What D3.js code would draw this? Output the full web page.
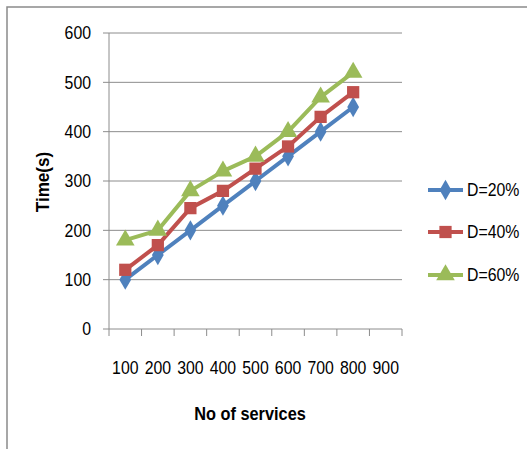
<!DOCTYPE html>
<html>
<head>
<meta charset="utf-8">
<script src="https://cdn.jsdelivr.net/npm/d3@7"></script>
<style>
  html, body { margin: 0; padding: 0; background: #fff; }
  svg { display: block; }
  text { font-family: "Liberation Sans", Arial, sans-serif; fill: #000; }
</style>
</head>
<body>
<script>
const categories = ["100", "200", "300", "400", "500", "600", "700", "800", "900"];
const d20 = [100, 150, 200, 250, 300, 350, 400, 450];
const d40 = [120, 170, 245, 280, 325, 370, 430, 480];
const d60 = [180, 200, 280, 320, 350, 400, 470, 520];
const seriesNames = ["D=20%", "D=40%", "D=60%"];
const yTicks = [0, 100, 200, 300, 400, 500, 600];

(function () {
const W = 527, H = 449;
const svg = d3.select("body").append("svg").attr("width", W).attr("height", H);

// narrow text helper (approximates a condensed font)
function label(parent, tx, ty, str, anchor, size, weight, sx, rot) {
  return parent.append("text")
    .attr("transform", `translate(${tx},${ty})` + (rot ? ` rotate(${rot})` : "") + ` scale(${sx},1)`)
    .attr("dy", "0.35em").attr("text-anchor", anchor)
    .attr("font-size", size).attr("font-weight", weight || "normal").text(str);
}

// outer chart border
svg.append("rect").attr("x", 7).attr("y", 7).attr("width", W + 10).attr("height", H + 10)
  .attr("fill", "none").attr("stroke", "#8a8a8a").attr("stroke-width", 1.5);

const pLeft = 109, pRight = 402, pTop = 33, pBottom = 329;
const x = d3.scaleBand().domain(categories).range([pLeft, pRight]).padding(0);
const y = d3.scaleLinear().domain([0, 600]).range([pBottom, pTop]);

// gridlines
svg.append("g").selectAll("line").data(yTicks).join("line")
  .attr("x1", pLeft - 6).attr("x2", pRight)
  .attr("y1", d => y(d)).attr("y2", d => y(d))
  .attr("stroke", "#8c8c8c").attr("stroke-width", 1);

// y axis line
svg.append("line").attr("x1", pLeft).attr("x2", pLeft).attr("y1", pTop).attr("y2", pBottom)
  .attr("stroke", "#8c8c8c").attr("stroke-width", 1);

// x axis ticks at band boundaries
const bounds = categories.map(c => x(c)).concat([pRight]);
svg.append("g").selectAll("line").data(bounds).join("line")
  .attr("x1", d => d).attr("x2", d => d).attr("y1", pBottom).attr("y2", pBottom + 7)
  .attr("stroke", "#8c8c8c").attr("stroke-width", 1);

// y tick labels
const gy = svg.append("g");
yTicks.forEach(t => label(gy, 91, y(t), t, "end", 18, "normal", 0.88));

// x tick labels
const gx = svg.append("g");
categories.forEach(c => label(gx, x(c) + x.bandwidth() / 2, 368, c, "middle", 18, "normal", 0.88));

// axis titles
label(svg, 250, 413, "No of services", "middle", 19, "bold", 0.86);
label(svg, 42, 182, "Time(s)", "middle", 19, "bold", 0.9, -90);

const colors = ["#4f81bd", "#c0504d", "#9bbb59"];
const symbols = [d3.symbolDiamond, d3.symbolSquare, d3.symbolTriangle];
const sizes = [120, 150, 150];
const data = [d20, d40, d60];

const line = d3.line().x((d, i) => x(categories[i]) + x.bandwidth() / 2).y(d => y(d));

data.forEach((vals, s) => {
  const g = svg.append("g");
  g.append("path").datum(vals).attr("d", line).attr("fill", "none")
    .attr("stroke", colors[s]).attr("stroke-width", 4).attr("stroke-linejoin", "round");
  g.selectAll("path.m").data(vals).join("path").attr("class", "m")
    .attr("transform", (d, i) => `translate(${x(categories[i]) + x.bandwidth() / 2},${y(d)})`)
    .attr("d", d3.symbol().type(symbols[s]).size(sizes[s]))
    .attr("fill", colors[s]);
});

// legend
const legY = [190, 232, 275];
seriesNames.forEach((name, s) => {
  const g = svg.append("g");
  g.append("line").attr("x1", 428).attr("x2", 463).attr("y1", legY[s]).attr("y2", legY[s])
    .attr("stroke", colors[s]).attr("stroke-width", 4);
  g.append("path").attr("transform", `translate(445.5,${legY[s]})`)
    .attr("d", d3.symbol().type(symbols[s]).size(sizes[s])).attr("fill", colors[s]);
  label(g, 467, legY[s], name, "start", 18, "normal", 0.88);
});
})();
</script>
</body>
</html>
